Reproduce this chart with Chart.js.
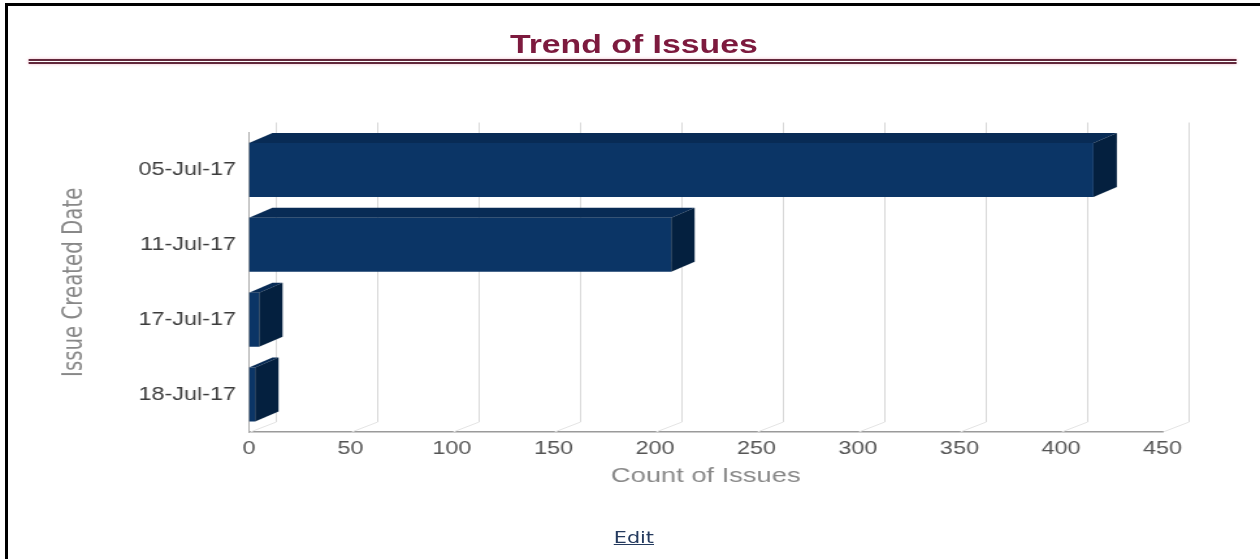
<!DOCTYPE html>
<html>
<head>
<meta charset="utf-8">
<script src="https://cdn.jsdelivr.net/npm/chart.js@4.4.1/dist/chart.umd.min.js"></script>
<style>
  html, body { margin: 0; padding: 0; background: #fff; }
  body { width: 1260px; height: 559px; position: relative; overflow: hidden; }
  .frame-top { position: absolute; left: 5px; top: 3px; right: 0; height: 3px; background: #000; }
  .frame-left { position: absolute; left: 5px; top: 3px; bottom: 0; width: 3px; background: #000; }
  /* the original screenshot is stretched sideways, so the whole page is too */
  .stage { position: absolute; left: 0; top: 0; width: 969px; height: 559px;
           transform: scaleX(1.3003); transform-origin: 0 0; }
  .title { position: absolute; left: 3px; width: 969px; top: 29px; line-height: 30px;
           text-align: center; font: bold 26px "Liberation Sans", Tahoma, sans-serif; color: #7d1a3e; }
  .rule { position: absolute; left: 22px; width: 929px; top: 58.5px; height: 1px;
          border-top: 2px solid #62283b; border-bottom: 2px solid #62283b;
          box-shadow: 0 0 3px #f2bccb; }
  canvas { position: absolute; left: 0; top: 0; }
  .edit { position: absolute; left: 3px; width: 969px; top: 528px; text-align: center;
          font: 16px "DejaVu Sans", sans-serif; line-height: 20px; }
  .edit a { color: #243a5e; text-decoration: underline; }
</style>
</head>
<body>
<div class="frame-top"></div>
<div class="frame-left"></div>
<div class="stage">
  <div class="title">Trend of Issues</div>
  <div class="rule"></div>
  <canvas id="chart" width="969" height="559"></canvas>
  <div class="edit"><a href="#">Edit</a></div>
</div>
<script>
// values
const dates = ["05-Jul-17", "11-Jul-17", "17-Jul-17", "18-Jul-17"];
const counts = [416, 208, 5, 3];

const FRONT = "#0b3566";
const TOP = "#082b55";
const SIDE = "#04203f";
const GRID_DX = 20, BAR_DX = 18, DEPTH_DY = -10;
const SANS = '"Liberation Sans", Arial, sans-serif';
const NARROW = '"Liberation Sans Narrow", "Arial Narrow", "DejaVu Sans Condensed", sans-serif';

// fake 3D: back wall grid, floor ticks and extruded bar faces
const depth3d = {
  id: "depth3d",
  beforeDatasetsDraw(chart) {
    const { ctx, chartArea, scales: { x } } = chart;
    ctx.save();
    ctx.lineWidth = 1;
    x.ticks.forEach(t => {
      const px = Math.round(x.getPixelForValue(t.value)) + 0.5;
      ctx.strokeStyle = "#d8d8d8";
      ctx.beginPath();
      ctx.moveTo(px + GRID_DX, chartArea.top + DEPTH_DY);
      ctx.lineTo(px + GRID_DX, chartArea.bottom + DEPTH_DY);
      ctx.stroke();
      ctx.strokeStyle = "#e4e4e4";
      ctx.beginPath();
      ctx.moveTo(px, chartArea.bottom);
      ctx.lineTo(px + GRID_DX, chartArea.bottom + DEPTH_DY);
      ctx.stroke();
    });
    ctx.restore();
  },
  afterDatasetsDraw(chart) {
    const ctx = chart.ctx;
    ctx.save();
    chart.getDatasetMeta(0).data.forEach(bar => {
      const { x, y, base, height } = bar.getProps(["x", "y", "base", "height"], true);
      const top = y - height / 2, bottom = y + height / 2;
      ctx.fillStyle = TOP;
      ctx.beginPath();
      ctx.moveTo(base, top);
      ctx.lineTo(x, top);
      ctx.lineTo(x + BAR_DX, top + DEPTH_DY);
      ctx.lineTo(base + BAR_DX, top + DEPTH_DY);
      ctx.closePath();
      ctx.fill();
      ctx.fillStyle = SIDE;
      ctx.beginPath();
      ctx.moveTo(x, top);
      ctx.lineTo(x + BAR_DX, top + DEPTH_DY);
      ctx.lineTo(x + BAR_DX, bottom + DEPTH_DY);
      ctx.lineTo(x, bottom);
      ctx.closePath();
      ctx.fill();
    });
    ctx.restore();
  }
};

new Chart(document.getElementById("chart"), {
  type: "bar",
  data: {
    labels: dates,
    datasets: [{
      data: counts,
      backgroundColor: FRONT,
      borderWidth: 0,
      barPercentage: 0.72,
      categoryPercentage: 1
    }]
  },
  options: {
    indexAxis: "y",
    responsive: false,
    animation: false,
    layout: { padding: { top: 132.5, right: 75, bottom: 70, left: 44.2 } },
    plugins: { legend: { display: false }, tooltip: { enabled: false } },
    scales: {
      x: {
        min: 0,
        max: 450,
        ticks: { stepSize: 50, padding: 6, color: "#555", font: { family: SANS, size: 18 } },
        grid: { display: false, drawTicks: false },
        border: { display: true, color: "#9a9a9a", width: 1.5 },
        title: { display: true, text: "Count of Issues", color: "#888", padding: 0,
                 font: { family: SANS, size: 21 } },
        afterFit: s => { s.height = 57; }
      },
      y: {
        ticks: { padding: 10, color: "#3c3c3c", font: { family: SANS, size: 18 } },
        grid: { display: false, drawTicks: false },
        border: { display: true, color: "#a8a8a8", width: 1 },
        title: { display: true, text: "Issue Created Date", color: "#888", padding: 0,
                 font: { family: NARROW, size: 22 } },
        afterFit: s => { s.width = 147.3; }
      }
    }
  },
  plugins: [depth3d]
});
</script>
</body>
</html>
